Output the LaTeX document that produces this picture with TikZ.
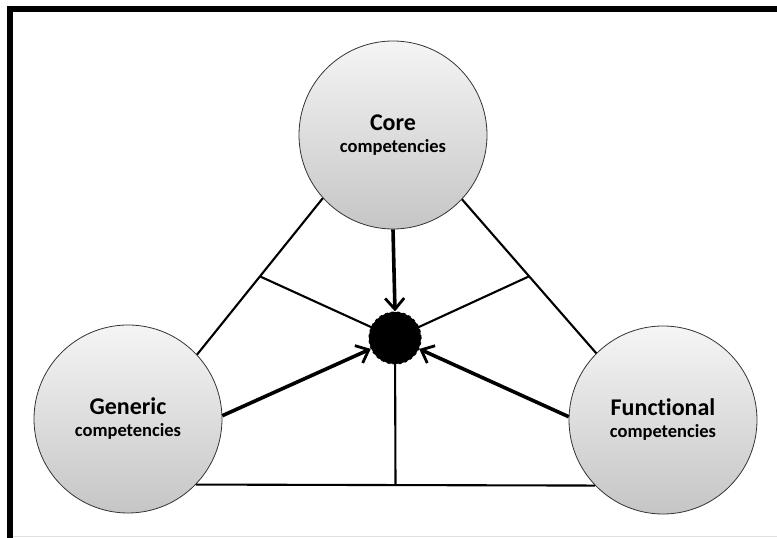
\documentclass[tikz,border=0pt]{standalone}
\usepackage{fontspec}
\setmainfont{Carlito}[Ligatures=NoCommon]
\usepackage{tikz}
\usetikzlibrary{arrows.meta, calc}

\newcommand{\comptitle}[1]{{\fontsize{24}{22}\selectfont #1}\\competencies}

\begin{document}
\begin{tikzpicture}[x=1pt, y=1pt,
                    comp/.style={circle, draw=black!80, line width=0.8pt, inner sep=0pt,
                                 minimum size=188pt, top color=gray!8, bottom color=gray!45,
                                 align=center, text=black,
                                 font=\fontsize{18.5}{22}\selectfont\bfseries},
                    link/.style={line width=2.1pt},
                    push/.style={line width=3.6pt, -{Straight Barb[length=11pt, width=19pt, line width=2.8pt]}},
                    hubdot/.style={circle, fill=black, draw=black, dashed, line width=1.2pt,
                                   minimum size=52pt, inner sep=0pt}]

	\useasboundingbox (0,0) rectangle (777,538);

	% frame
	\draw [line width=6pt] (10,0) -- (10,529) -- (777,529);
	\draw [black!12, line width=1pt] (13,1.5) -- (777,1.5);

	\node [comp] (core)       at (393,403) {\comptitle{Core}};
	\node [comp] (generic)    at (128,119) {\comptitle{Generic}};
	\node [comp] (functional) at (663,118) {\comptitle{Functional}};

	\coordinate (hubc) at (395,200);

	% triangle
	\draw [link] (core.222)    -- (generic.43)    coordinate[pos=0.5] (midl);
	\draw [link] (core.317)    -- (functional.135) coordinate[pos=0.5] (midr);
	\draw [link] (generic.316) -- (functional.224) coordinate[pos=0.5] (midb);

	% spokes
	\draw [link] (midl) -- (hubc);
	\draw [link] (midr) -- (hubc);
	\draw [link] (midb) -- (hubc);

	\node [hubdot] (hub) at (hubc) {};

	\draw [push] (core.south)     -- (hub.north);
	\draw [push] (generic.2)      -- (hub);
	\draw [push] (functional.178) -- (hub);

\end{tikzpicture}
\end{document}
